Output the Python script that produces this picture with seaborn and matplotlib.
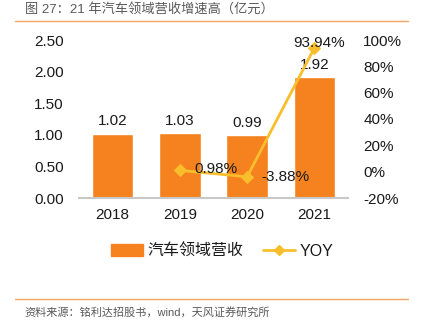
import matplotlib
matplotlib.use("Agg")
import matplotlib.pyplot as plt
import seaborn as sns
import pandas as pd
from matplotlib.lines import Line2D
from matplotlib.patches import Patch

sns.set_theme(style="white")
plt.rcParams['font.family'] = ['Liberation Sans', 'Noto Sans CJK SC', 'DejaVu Sans']
plt.rcParams['axes.unicode_minus'] = False

years = ["2018", "2019", "2020", "2021"]
revenue = [1.02, 1.03, 0.99, 1.92]
yoy_years = ["2019", "2020", "2021"]
yoy = [0.0098, -0.0388, 0.9394]
yoy_labels = ["0.98%", "-3.88%", "93.94%"]
left_ticks = [0.0, 0.5, 1.0, 1.5, 2.0, 2.5]
right_ticks = [-0.2, 0.0, 0.2, 0.4, 0.6, 0.8, 1.0]

bar_color = "#F5821F"
line_color = "#F9BE2B"
text_color = "#1A1A1A"

W, H = 421, 326
fig = plt.figure(figsize=(W / 100, H / 100), dpi=100)
ax = fig.add_axes([79 / W, 128 / H, 269 / W, 158 / H])

df = pd.DataFrame({"year": years, "rev": revenue})
sns.barplot(data=df, x="year", y="rev", color=bar_color, saturation=1,
            width=0.62, ax=ax)
ax.set_xlim(-0.5, 3.5)
ax.set_ylim(0, 2.5)
ax.set_yticks(left_ticks)
ax.set_yticklabels([f"{t:.2f}" for t in left_ticks], fontsize=11, color=text_color)
ax.set_xlabel("")
ax.set_ylabel("")
ax.tick_params(axis="x", labelsize=11, length=0, pad=7, labelcolor=text_color)
ax.tick_params(axis="y", length=0, pad=11)
for s in ["top", "right", "left"]:
    ax.spines[s].set_visible(False)
ax.spines["bottom"].set_color("#C8C8C8")
ax.spines["bottom"].set_linewidth(1.5)
for i, v in enumerate(revenue):
    ax.text(i, v + 0.08, f"{v:.2f}", ha="center", va="bottom", fontsize=11,
            color=text_color)

ax2 = ax.twinx()
ydf = pd.DataFrame({"x": [years.index(y) for y in yoy_years], "yoy": yoy})
sns.lineplot(data=ydf, x="x", y="yoy", color=line_color, marker="D",
             markersize=6, markeredgecolor=line_color, linewidth=2, ax=ax2)
ax2.set_ylim(-0.2, 1.0)
ax2.set_xlim(-0.5, 3.5)
ax2.set_yticks(right_ticks)
ax2.set_yticklabels([f"{int(round(t*100))}%" for t in right_ticks], fontsize=11,
                    color=text_color)
ax2.tick_params(axis="y", length=0, pad=11)
ax2.set_ylabel("")
ax2.set_xlabel("")
for s in ["top", "right", "left", "bottom"]:
    ax2.spines[s].set_visible(False)

offs = [(0.21, 0.01, "left", "center"), (0.21, -0.005, "left", "center"),
        (0.07, 0.04, "center", "center")]
for (x, v, lab, (dx, dy, ha, va)) in zip(ydf["x"], yoy, yoy_labels, offs):
    ax2.text(x + dx, v + dy, lab, ha=ha, va=va, fontsize=11, color=text_color)

handles = [Patch(color=bar_color),
           Line2D([0], [0], color=line_color, marker="D", markersize=5, linewidth=2)]
fig.legend(handles, ["汽车领域营收", "YOY"], loc="center",
           bbox_to_anchor=(222 / W, 1 - 251 / H),
           ncol=2, frameon=False, fontsize=11.5, handlelength=2.0, columnspacing=1.2,
           handletextpad=0.3, labelcolor=text_color)

fig.text(25 / W, 1 - 10 / H, "图 27：21 年汽车领域营收增速高（亿元）", ha="left", va="center",
         fontsize=9.5, color="#595959")
fig.add_artist(Line2D([15 / W, 408 / W], [1 - 21 / H, 1 - 21 / H], color="#F4A460", linewidth=1))
fig.add_artist(Line2D([15 / W, 408 / W], [1 - 299 / H, 1 - 299 / H], color="#F4A460", linewidth=1))
fig.text(24 / W, 1 - 312 / H, "资料来源：铭利达招股书，wind，天风证券研究所", ha="left", va="center",
         fontsize=8, color="#595959")

fig.savefig("out.png", dpi=100)
